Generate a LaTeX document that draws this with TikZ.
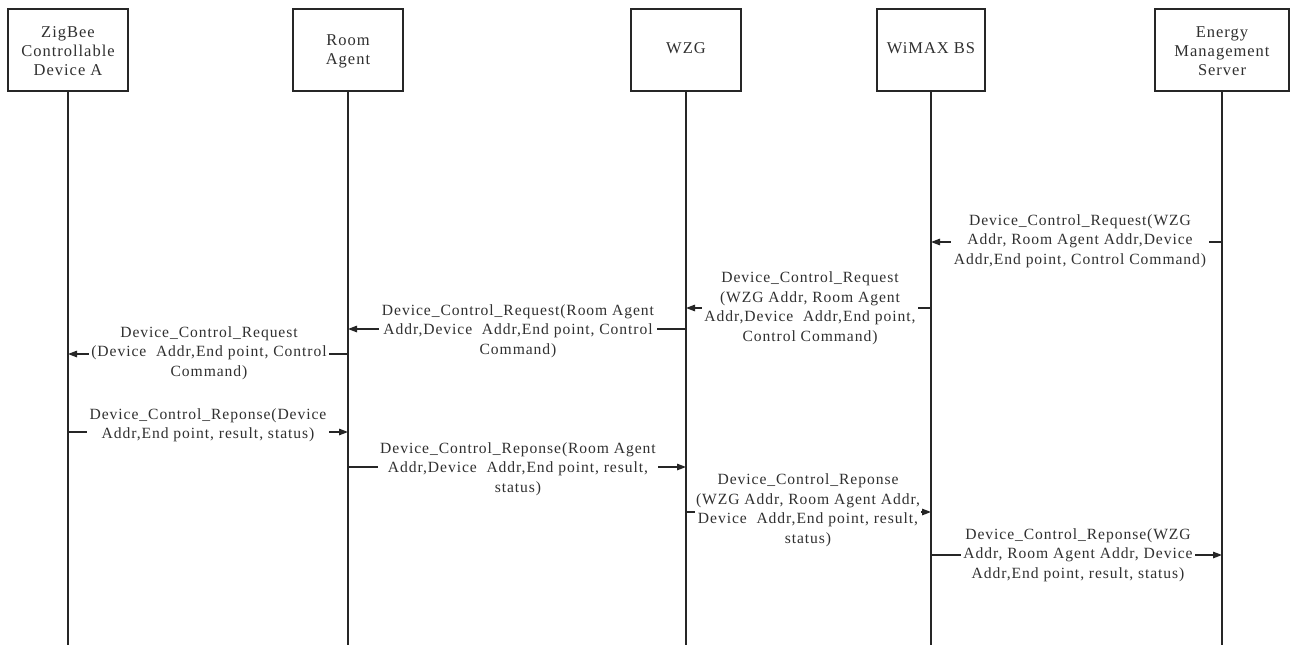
\documentclass[tikz,border=0pt]{standalone}
\usepackage{fontspec}
\setmainfont{Liberation Serif}
\newfontfamily\msgfamily{Liberation Serif}[LetterSpace=6]
\usetikzlibrary{arrows.meta}
\definecolor{linec}{HTML}{262626}
\definecolor{textc}{HTML}{303030}
\tikzset{
  actorbox/.style={draw=linec, line width=1.6pt, minimum height=82pt, align=center,
    font=\msgfamily\fontsize{16.5}{19}\selectfont, text=textc, inner sep=0pt},
  lifeline/.style={draw=linec, line width=1.4pt},
  msgarrow/.style={draw=linec, line width=1.3pt, -{Triangle[length=9pt,width=6.5pt]}},
  msglabel/.style={fill=white, inner sep=2.5pt, align=center,
    font=\msgfamily\fontsize{15.6}{19.5}\selectfont, text=textc}
}
\begin{document}
\begin{tikzpicture}[x=1pt,y=-1pt]
\useasboundingbox[fill=white] (0,0) rectangle (1292,645);
% actors
\node[actorbox, minimum width=120pt] (A) at (68,50) {\strut ZigBee\\Controllable\\Device A};
\node[actorbox, minimum width=110pt] (R) at (348,50) {\strut Room\\Agent};
\node[actorbox, minimum width=110pt] (W) at (686,50) {\strut WZG};
\node[actorbox, minimum width=108pt] (B) at (931,50) {\strut WiMAX BS};
\node[actorbox, minimum width=134pt] (E) at (1222,50) {\strut Energy\\Management\\Server};
% lifeline ends
\coordinate (Aend) at (68,645);
\coordinate (Rend) at (348,645);
\coordinate (Wend) at (686,645);
\coordinate (Bend) at (931,645);
\coordinate (Eend) at (1222,645);
% message end points
\coordinate (E1) at (1222,242); \coordinate (B1) at (931,242);
\coordinate (B2) at (931,308); \coordinate (W2) at (686,308);
\coordinate (W3) at (686,329); \coordinate (R3) at (348,329);
\coordinate (R4) at (348,354); \coordinate (A4) at (68,354);
\coordinate (A5) at (68,432); \coordinate (R5) at (348,432);
\coordinate (R6) at (348,467); \coordinate (W6) at (686,467);
\coordinate (W7) at (686,512); \coordinate (B7) at (931,512);
\coordinate (B8) at (931,555); \coordinate (E8) at (1222,555);
% messages
\draw[msgarrow] (E1) -- (B1);
\draw[msgarrow] (B2) -- (W2);
\draw[msgarrow] (W3) -- (R3);
\draw[msgarrow] (R4) -- (A4);
\draw[msgarrow] (A5) -- (R5);
\draw[msgarrow] (R6) -- (W6);
\draw[msgarrow] (W7) -- (B7);
\draw[msgarrow] (B8) -- (E8);
% labels
\node[msglabel] (L1) at (1080,241) {Device\_Control\_Request(WZG\\Addr, Room Agent Addr,Device\\Addr,End point, Control Command)};
\node[msglabel] (L2) at (810,308) {Device\_Control\_Request\\(WZG Addr, Room Agent\\Addr,Device\ \ Addr,End point,\\Control Command)};
\node[msglabel] (L3) at (518,331) {Device\_Control\_Request(Room Agent\\Addr,Device\ \ Addr,End point, Control\\Command)};
\node[msglabel] (L4) at (209,353) {Device\_Control\_Request\\(Device\ \ Addr,End point, Control\\Command)};
\node[msglabel] (L5) at (208,425) {Device\_Control\_Reponse(Device\\Addr,End point, result, status)};
\node[msglabel] (L6) at (518,469) {Device\_Control\_Reponse(Room Agent\\Addr,Device\ \ Addr,End point, result,\\status)};
\node[msglabel, inner xsep=1pt] (L7) at (808,510) {Device\_Control\_Reponse\\(WZG Addr, Room Agent Addr,\\Device\ \ Addr,End point, result,\\status)};
\node[msglabel] (L8) at (1078,555) {Device\_Control\_Reponse(WZG\\Addr, Room Agent Addr, Device\\Addr,End point, result, status)};
% lifelines
\draw[lifeline] (A.south) -- (Aend);
\draw[lifeline] (R.south) -- (Rend);
\draw[lifeline] (W.south) -- (Wend);
\draw[lifeline] (B.south) -- (Bend);
\draw[lifeline] (E.south) -- (Eend);
\end{tikzpicture}
\end{document}
